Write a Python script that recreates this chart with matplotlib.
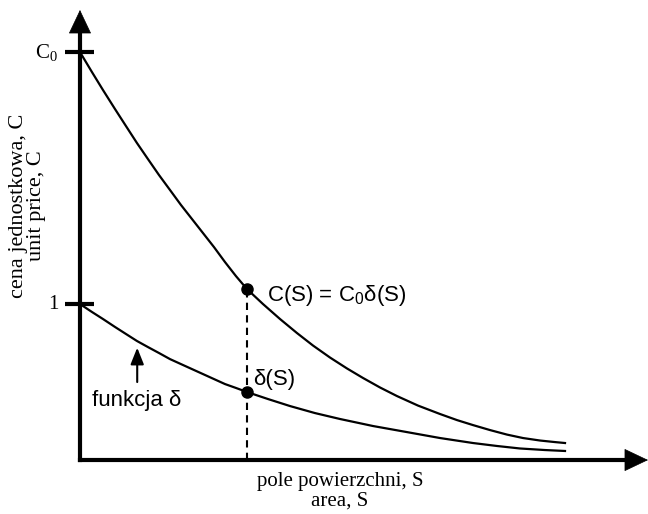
import numpy as np
import matplotlib.pyplot as plt

# curve samples (x: area S, y: price)
s_upper = [0, 0.247, 0.474, 0.722, 0.948, 1.175, 1.402, 1.629, 1.856, 2.082, 2.309,
           2.536, 2.763, 2.990, 3.216, 3.443, 3.773, 4.124, 4.474, 4.804, 5.155,
           5.505, 5.835, 6.186, 6.536, 6.969, 7.423, 7.773, 8.103, 8.454, 8.804,
           9.134, 9.485, 9.794, 10.0]
c_upper = [2.615, 2.487, 2.372, 2.250, 2.141, 2.032, 1.929, 1.827, 1.731, 1.635, 1.545,
           1.455, 1.365, 1.269, 1.179, 1.096, 1.000, 0.904, 0.814, 0.734, 0.657,
           0.587, 0.526, 0.465, 0.410, 0.349, 0.295, 0.256, 0.224, 0.192, 0.163,
           0.141, 0.125, 0.115, 0.109]

s_lower = [0, 0.247, 0.474, 0.722, 0.948, 1.175, 1.402, 1.629, 1.856, 2.082, 2.309,
           2.536, 2.763, 2.990, 3.216, 3.443, 3.876, 4.330, 4.845, 5.361, 6.041,
           6.742, 7.423, 8.103, 8.598, 9.072, 9.588, 10.0]
d_lower = [1.000, 0.949, 0.904, 0.853, 0.808, 0.763, 0.724, 0.686, 0.647, 0.615, 0.583,
           0.551, 0.519, 0.487, 0.462, 0.436, 0.391, 0.346, 0.301, 0.263, 0.218,
           0.179, 0.141, 0.109, 0.090, 0.074, 0.064, 0.058]

s_mark = 3.443
c_mark = 1.096
d_mark = 0.436

c0 = 2.615
ytick_vals = [c0, 1.0]
ytick_labels = ['C$\\mathregular{_0}$', '1']

serif = 'Liberation Serif'
sans = 'Liberation Sans'

fig = plt.figure(figsize=(6.48, 5.14), dpi=100)
ax = fig.add_axes([0, 0, 1, 1])
ax.set_xlim(-1.649, 11.711)
ax.set_ylim(-0.346, 2.949)
ax.axis('off')

# axes lines with arrow heads
head = dict(arrowstyle='-|>,head_length=0.8,head_width=0.38', lw=0.5,
            color='black', mutation_scale=20, shrinkA=0, shrinkB=0)
ax.plot([0, 0], [0, 2.75], color='black', lw=3, solid_capstyle='projecting')
ax.plot([0, 11.4], [0, 0], color='black', lw=3, solid_capstyle='projecting')
ax.annotate('', xy=(0, 2.885), xytext=(0, 2.6), arrowprops=head)
ax.annotate('', xy=(11.711, 0), xytext=(11.2, 0), arrowprops=head)

# tick marks on the y axis
for v, lab in zip(ytick_vals, ytick_labels):
    ax.plot([-0.31, 0.29], [v, v], color='black', lw=3, solid_capstyle='butt')
    ax.text(-0.45, v, lab, ha='right', va='center', fontsize=15, family=serif)

# curves
ax.plot(s_upper, c_upper, color='black', lw=1.6, solid_joinstyle='round')
ax.plot(s_lower, d_lower, color='black', lw=1.6, solid_joinstyle='round')

# dashed line and points
ax.plot([s_mark, s_mark], [0, c_mark], color='black', lw=1.5, linestyle=(0, (3.5, 2.5)))
ax.plot([s_mark, s_mark], [c_mark, d_mark], 'o', color='black', markersize=8)

ax.text(s_mark + 0.42, c_mark - 0.04, 'C(S) = $\\mathregular{C_0}$δ(S)',
        ha='left', va='center', fontsize=16, family=sans)
ax.text(s_mark + 0.12, d_mark + 0.08, 'δ(S)',
        ha='left', va='center', fontsize=16, family=sans)
ax.text(0.25, 0.38, 'funkcja δ', ha='left', va='center', fontsize=16, family=sans)
ax.annotate('', xy=(1.18, 0.72), xytext=(1.18, 0.5),
            arrowprops=dict(arrowstyle='-|>,head_length=0.5,head_width=0.2',
                            lw=1.5, color='black', mutation_scale=20,
                            shrinkA=0, shrinkB=0))

# axis titles
ax.text(5.36, -0.2, 'pole powierzchni, S\narea, S', ha='center', va='center',
        fontsize=15, family=serif, linespacing=1.1)
ax.text(-1.08, 1.63, 'cena jednostkowa, C\nunit price, C', ha='center', va='center',
        rotation=90, fontsize=16, family=serif, linespacing=0.9)

fig.savefig('out.png', dpi=100)
